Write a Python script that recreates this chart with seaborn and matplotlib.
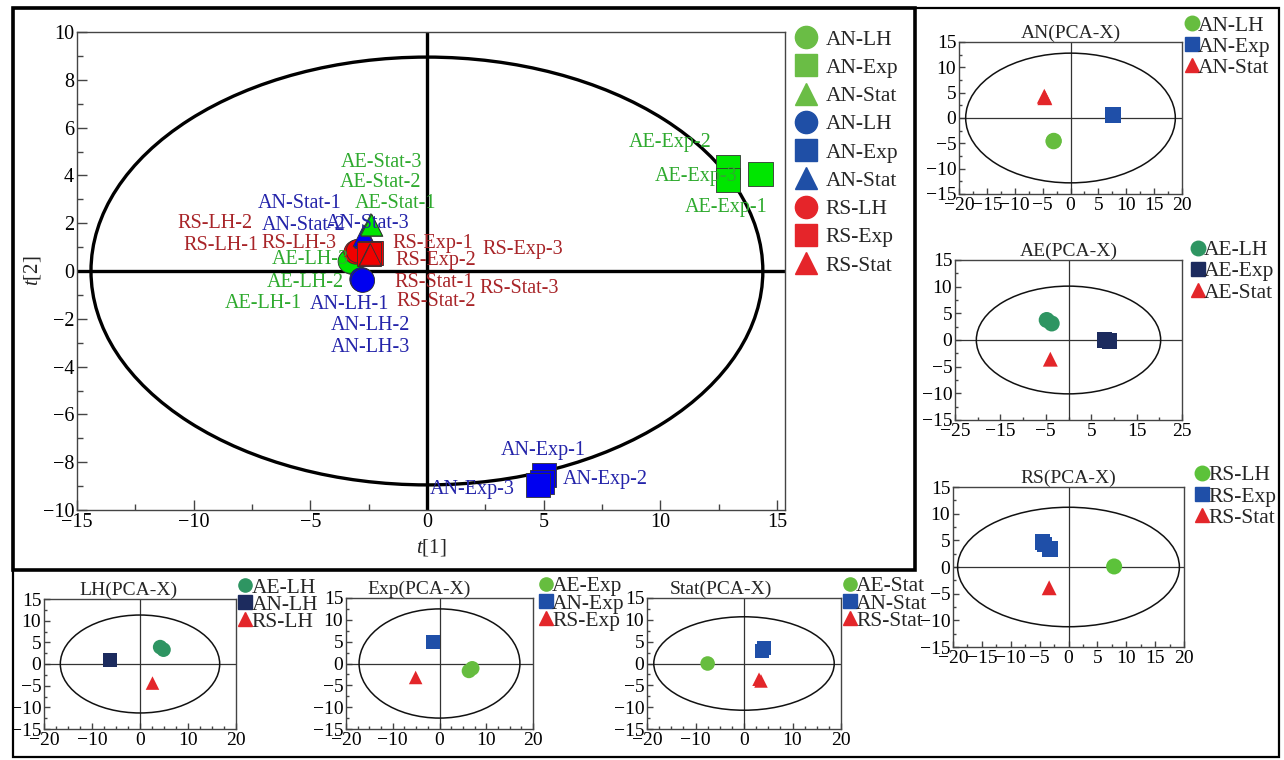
import numpy as np
import pandas as pd
import matplotlib
matplotlib.use("Agg")
import matplotlib.pyplot as plt
import seaborn as sns
from matplotlib.patches import Ellipse, Rectangle
from matplotlib.lines import Line2D
from matplotlib.ticker import MultipleLocator, FixedLocator

sns.set_theme(style="white")
plt.rcParams["font.family"] = ["Liberation Serif", "DejaVu Serif"]
plt.rcParams["mathtext.fontset"] = "custom"
plt.rcParams["mathtext.rm"] = "Liberation Serif"
plt.rcParams["mathtext.it"] = "Liberation Serif:italic"

# ---------------- main score plot data ----------------
main_group = (["AE-LH"] * 3 + ["AN-LH"] * 3 + ["RS-LH"] * 3 + ["AN-Stat"] * 3 + ["AE-Stat"] * 3
              + ["RS-Exp"] * 3 + ["RS-Stat"] * 3 + ["AE-Exp"] * 3 + ["AN-Exp"] * 3)
main_t1 = [-3.25, -3.2, -3.3, -2.77, -2.8, -2.75, -3.0, -3.05, -2.95, -2.66, -2.62, -2.7,
           -2.4, -2.35, -2.37, -2.44, -2.4, -2.48, -2.44, -2.46, -2.42, 12.92, 14.3, 12.92,
           5.01, 4.92, 4.77]
main_t2 = [0.45, 0.35, 0.4, -0.38, -0.35, -0.4, 0.81, 0.78, 0.83, 1.44, 1.4, 1.48,
           1.95, 1.9, 1.92, 0.74, 0.76, 0.72, 0.67, 0.65, 0.69, 4.36, 4.06, 3.81,
           -8.54, -8.82, -8.95]
main_ellipse = (14.4, 8.95)

lab_text = ["AE-Stat-3", "AE-Stat-2", "AE-Stat-1", "AN-Stat-1", "AN-Stat-2", "AN-Stat-3",
            "RS-LH-2", "RS-LH-1", "RS-LH-3", "AE-LH-3", "AE-LH-2", "AE-LH-1",
            "AN-LH-1", "AN-LH-2", "AN-LH-3", "RS-Exp-1", "RS-Exp-2", "RS-Exp-3",
            "RS-Stat-1", "RS-Stat-2", "RS-Stat-3", "AE-Exp-2", "AE-Exp-3", "AE-Exp-1",
            "AN-Exp-1", "AN-Exp-2", "AN-Exp-3"]
lab_x = [-1.95, -2.0, -1.35, -5.45, -5.3, -2.55, -9.07, -8.83, -5.49, -5.0, -5.23, -7.0,
         -3.34, -2.44, -2.44, 0.26, 0.39, 4.09, 0.32, 0.39, 3.94, 10.42, 11.55, 12.84,
         5.01, 7.63, 1.95]
lab_y = [4.55, 3.7, 2.83, 2.84, 1.92, 2.0, 2.0, 1.05, 1.13, 0.5, -0.5, -1.34,
         -1.42, -2.26, -3.18, 1.13, 0.43, 0.92, -0.5, -1.28, -0.75, 5.37, 3.97, 2.64,
         -7.49, -8.74, -9.16]

legend_labels = ["AN-LH", "AN-Exp", "AN-Stat", "AN-LH", "AN-Exp", "AN-Stat",
                 "RS-LH", "RS-Exp", "RS-Stat"]

# ---------------- small PCA-X panels ----------------
an_x = [-3.05, -3.0, 7.5, 7.6, -4.7, -4.6]
an_y = [-4.6, -4.5, 0.5, 0.6, 4.3, 4.0]
an_cls = ["AN-LH", "AN-LH", "AN-Exp", "AN-Exp", "AN-Stat", "AN-Stat"]

ae_x = [-4.8, -3.7, 7.9, 9.0, -4.0]
ae_y = [3.75, 3.1, 0.0, -0.2, -3.6]
ae_cls = ["AE-LH", "AE-LH", "AE-Exp", "AE-Exp", "AE-Stat"]

rs_x = [7.9, -4.5, -4.1, -3.2, -3.35]
rs_y = [0.1, 4.7, 4.2, 3.4, -3.9]
rs_cls = ["RS-LH", "RS-Exp", "RS-Exp", "RS-Exp", "RS-Stat"]

lh_x = [4.2, 4.9, -6.25, 2.6]
lh_y = [3.9, 3.3, 0.85, -4.4]
lh_cls = ["AE-LH", "AE-LH", "AN-LH", "RS-LH"]

exp_x = [6.3, 7.0, -1.4, -5.1]
exp_y = [-1.7, -1.1, 5.0, -3.2]
exp_cls = ["AE-Exp", "AE-Exp", "AN-Exp", "RS-Exp"]

stat_x = [-7.5, 4.2, 3.8, 3.1, 3.5]
stat_y = [0.0, 3.5, 2.9, -3.6, -4.0]
stat_cls = ["AE-Stat", "AN-Stat", "AN-Stat", "RS-Stat", "RS-Stat"]

lightgreen = "#66BD3F"
seagreen = "#2E9562"
blue = "#1F4FA8"
navy = "#1C2B5E"
red = "#E3262A"

W, H = 1284, 760
fig = plt.figure(figsize=(W / 100, H / 100), dpi=100)


def px_rect(l, t, r, b):
    return [l / W, (H - b) / H, (r - l) / W, (b - t) / H]


def style_ticks(ax, size, major, minor):
    ax.tick_params(which="both", direction="in", bottom=True, left=True, top=False, right=False,
                   colors="#444444", labelcolor="black", labelsize=size, pad=2)
    ax.tick_params(which="major", length=major, width=1)
    ax.tick_params(which="minor", length=minor, width=1)
    for s in ax.spines.values():
        s.set_color("#444444")
        s.set_linewidth(1.0)


# ---------------- main panel ----------------
ax = fig.add_axes(px_rect(77, 32, 785, 510))
shape_of = {"LH": "circle", "Exp": "square", "Stat": "triangle"}
dfm = pd.DataFrame({"t1": main_t1, "t2": main_t2, "grp": main_group})
dfm["shape"] = dfm["grp"].str.split("-").str[1].map(shape_of)
main_pal = {"AE": "#00E600", "AN": "#0000F0", "RS": "#F00000"}
dfm["strain"] = dfm["grp"].str.split("-").str[0]
sns.scatterplot(data=dfm, x="t1", y="t2", hue="strain", style="shape", size="shape",
                palette=main_pal, markers={"circle": "o", "square": "s", "triangle": "^"},
                sizes={"circle": 290, "square": 300, "triangle": 240},
                linewidth=0.6, edgecolor="#333333", legend=False, ax=ax, zorder=3)
ax.add_patch(Ellipse((0, 0), 2 * main_ellipse[0], 2 * main_ellipse[1], fill=False,
                     ec="black", lw=2.4, zorder=2))
ax.axhline(0, color="black", lw=2.4, zorder=1)
ax.axvline(0, color="black", lw=2.4, zorder=1)
text_col = {"AE": "#2EAA2E", "AN": "#2424AA", "RS": "#A82428"}
for t, x, y in zip(lab_text, lab_x, lab_y):
    ax.text(x, y, t, color=text_col[t[:2]], fontsize=14.5, ha="center", va="center", zorder=4)
ax.set_xlim(-15, 15.35)
ax.set_ylim(-10, 10)
ax.xaxis.set_major_locator(MultipleLocator(5))
ax.xaxis.set_minor_locator(MultipleLocator(2.5))
ax.yaxis.set_major_locator(MultipleLocator(2))
ax.yaxis.set_minor_locator(MultipleLocator(1))
style_ticks(ax, 14.5, 7, 4)
ax.set_xlabel("$t$[1]", fontsize=15, labelpad=4)
ax.set_ylabel("$t$[2]", fontsize=15, labelpad=0)

leg_cols = ["#6ABD45"] * 3 + ["#1F4FA6"] * 3 + ["#E5252A"] * 3
leg_marks = ["o", "s", "^"] * 3
handles = [Line2D([], [], ls="", marker=m, color=c, markersize=16) for m, c in zip(leg_marks, leg_cols)]
ax.legend(handles, legend_labels, loc="upper left", bbox_to_anchor=(1.012, 1.005), frameon=False,
          fontsize=15.5, handlelength=1.2, handletextpad=0.3, labelspacing=0.38, borderpad=0,
          borderaxespad=0)


# ---------------- small panels ----------------
def pca_panel(rect, title, xs, ys, cls, labels, colors, ell, xlim, xticks, xminor,
              leg_anchor, leg_space, title_x=0.5, ms=11):
    a = fig.add_axes(rect)
    df = pd.DataFrame({"x": xs, "y": ys, "cls": cls})
    marks = dict(zip(labels, ["o", "s", "^"]))
    pal = dict(zip(labels, colors))
    sizes = dict(zip(labels, [ms ** 2 * 1.1, ms ** 2, ms ** 2 * 0.95]))
    sns.scatterplot(data=df, x="x", y="y", hue="cls", style="cls", size="cls",
                    hue_order=labels, style_order=labels, size_order=labels,
                    palette=pal, markers=marks, sizes=sizes, linewidth=0,
                    legend=False, ax=a, zorder=3)
    a.add_patch(Ellipse((0, 0), 2 * ell[0], 2 * ell[1], fill=False, ec="#111111", lw=1.1, zorder=2))
    a.axhline(0, color="#333333", lw=0.9, zorder=1)
    a.axvline(0, color="#333333", lw=0.9, zorder=1)
    a.set_xlim(*xlim)
    a.set_ylim(-15, 15)
    a.xaxis.set_major_locator(FixedLocator(xticks))
    a.xaxis.set_minor_locator(MultipleLocator(xminor))
    a.yaxis.set_major_locator(MultipleLocator(5))
    a.yaxis.set_minor_locator(MultipleLocator(2.5))
    style_ticks(a, 14, 4, 2.5)
    a.set_xlabel("")
    a.set_ylabel("")
    a.set_title(title, fontsize=14, x=title_x, pad=3)
    hs = [Line2D([], [], ls="", marker=m, color=c, markersize=ms * 0.95)
          for m, c in zip(["o", "s", "^"], colors)]
    a.legend(hs, labels, loc="upper left", bbox_to_anchor=leg_anchor, frameon=False,
             fontsize=15.5, handlelength=0.8, handletextpad=-0.1, labelspacing=leg_space,
             borderpad=0, borderaxespad=0)
    return a


pca_panel(px_rect(959, 42, 1182, 194), "AN(PCA-X)", an_x, an_y, an_cls,
          ["AN-LH", "AN-Exp", "AN-Stat"], [lightgreen, blue, red], (18.8, 12.8),
          (-20, 20), list(range(-20, 21, 5)), 2.5, (1.005, 1.174), 0.05)
pca_panel(px_rect(955, 260, 1182, 420), "AE(PCA-X)", ae_x, ae_y, ae_cls,
          ["AE-LH", "AE-Exp", "AE-Stat"], [seagreen, navy, red], (20.3, 10.1),
          (-25, 25), [-25, -15, -5, 5, 15, 25], 5, (1.031, 1.124), 0.05)
pca_panel(px_rect(953, 487, 1184, 647), "RS(PCA-X)", rs_x, rs_y, rs_cls,
          ["RS-LH", "RS-Exp", "RS-Stat"], ["#5CC23A", blue, red], (19.2, 11.2),
          (-20, 20), list(range(-20, 21, 5)), 2.5, (1.039, 1.135), 0.05)
pca_panel(px_rect(44, 599, 236, 729), "LH(PCA-X)", lh_x, lh_y, lh_cls,
          ["AE-LH", "AN-LH", "RS-LH"], [seagreen, navy, red], (16.6, 11.3),
          (-20, 20), [-20, -10, 0, 10, 20], 2.5, (1.004, 1.165), -0.135, title_x=0.44, ms=10)
pca_panel(px_rect(346, 598, 533, 729), "Exp(PCA-X)", exp_x, exp_y, exp_cls,
          ["AE-Exp", "AN-Exp", "RS-Exp"], [lightgreen, blue, red], (17.2, 12.5),
          (-20, 20), [-20, -10, 0, 10, 20], 2.5, (1.021, 1.165), -0.135, title_x=0.39, ms=10)
pca_panel(px_rect(647, 598, 841, 729), "Stat(PCA-X)", stat_x, stat_y, stat_cls,
          ["AE-Stat", "AN-Stat", "RS-Stat"], [lightgreen, blue, red], (18.6, 10.7),
          (-20, 20), [-20, -10, 0, 10, 20], 2.5, (1.0, 1.165), -0.135, title_x=0.38, ms=10)

# frames around the composite
fig.add_artist(Rectangle((13 / W, (H - 757) / H), 1266 / W, 749 / H, transform=fig.transFigure,
                         fill=False, ec="black", lw=1.6))
fig.add_artist(Rectangle((13 / W, (H - 570) / H), 902 / W, 562 / H, transform=fig.transFigure,
                         fill=False, ec="black", lw=2.6))

fig.savefig("out.png", dpi=100)
